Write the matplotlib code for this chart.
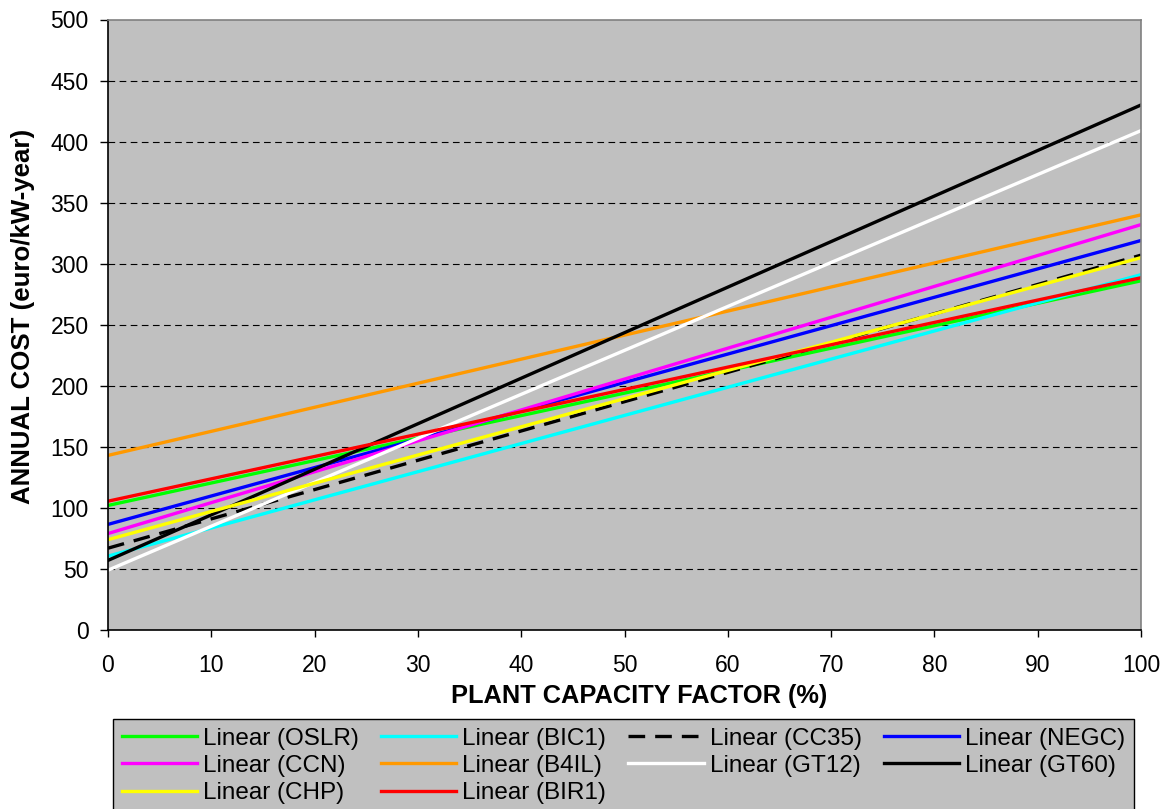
import matplotlib.pyplot as plt

plt.rcParams['font.family'] = ['Liberation Sans', 'DejaVu Sans']

# capacity factor (%) and annual cost at both ends of each trend line
capacity = [0, 100]
names = ['OSLR', 'BIC1', 'CC35', 'NEGC', 'CCN', 'B4IL', 'GT12', 'GT60', 'CHP', 'BIR1']
cost_at_0 = [102, 60.5, 67, 86.5, 79, 143, 49, 57, 74, 105.5]
cost_at_100 = [286, 291, 307, 319, 332, 340, 409, 430, 305, 288.5]
colors = ['#00FF00', '#00FFFF', '#000000', '#0000FF', '#FF00FF',
          '#FF9900', '#FFFFFF', '#000000', '#FFFF00', '#FF0000']

yticks = list(range(0, 501, 50))
xticks = list(range(0, 101, 10))

fig = plt.figure(figsize=(11.74, 8.09), dpi=100)
ax = fig.add_axes([108 / 1174, 1 - 630 / 809, 1033 / 1174, 610.5 / 809])
ax.set_facecolor('#C0C0C0')

handles = {}
for name, c0, c1, col in zip(names, cost_at_0, cost_at_100, colors):
    if name == 'CC35':
        ln, = ax.plot(capacity, [c0, c1], color=col, lw=2.4, dashes=(5, 3))
    else:
        ln, = ax.plot(capacity, [c0, c1], color=col, lw=2.4)
    handles[name] = ln

ax.set_xlim(0, 100)
ax.set_ylim(0, 500)
ax.set_xticks(xticks)
ax.set_yticks(yticks)
for y in yticks[1:-1]:
    ax.axhline(y, color='black', lw=0.8, dashes=(6, 4), zorder=0.5)

ax.tick_params(axis='y', direction='out', length=6, width=1, pad=8, labelsize=16.5)
ax.tick_params(axis='x', direction='out', length=5, width=1, pad=12, labelsize=16.5)
for s in ['left', 'bottom']:
    ax.spines[s].set_color('black')
for s in ['top', 'right']:
    ax.spines[s].set_color('#808080')
for s in ax.spines.values():
    s.set_linewidth(1.2)

ax.set_xlabel('PLANT CAPACITY FACTOR (%)', fontsize=18.3, fontweight='bold')
ax.xaxis.set_label_coords(0.514, -0.088)
ax.set_ylabel('ANNUAL COST (euro/kW-year)', fontsize=18.6, fontweight='bold')
ax.yaxis.set_label_coords(-0.071, 0.5135)

# matplotlib fills legend columns first, so order for rows: OSLR BIC1 CC35 NEGC / CCN B4IL GT12 GT60 / CHP BIR1
order = ['OSLR', 'CCN', 'CHP', 'BIC1', 'B4IL', 'BIR1', 'CC35', 'GT12', 'NEGC', 'GT60']
leg = fig.legend([handles[n] for n in order], ['Linear (%s)' % n for n in order],
                 ncol=4, loc='upper left', bbox_to_anchor=(113 / 1174, 90 / 809, 1021 / 1174, 0),
                 mode='expand', fontsize=17.5, handlelength=3.1, handletextpad=0.25,
                 labelspacing=0.22, borderpad=0.35, borderaxespad=0, fancybox=False)
leg.get_frame().set_facecolor('#C0C0C0')
leg.get_frame().set_edgecolor('black')
leg.get_frame().set_alpha(1)

fig.savefig('out.png', dpi=100)
